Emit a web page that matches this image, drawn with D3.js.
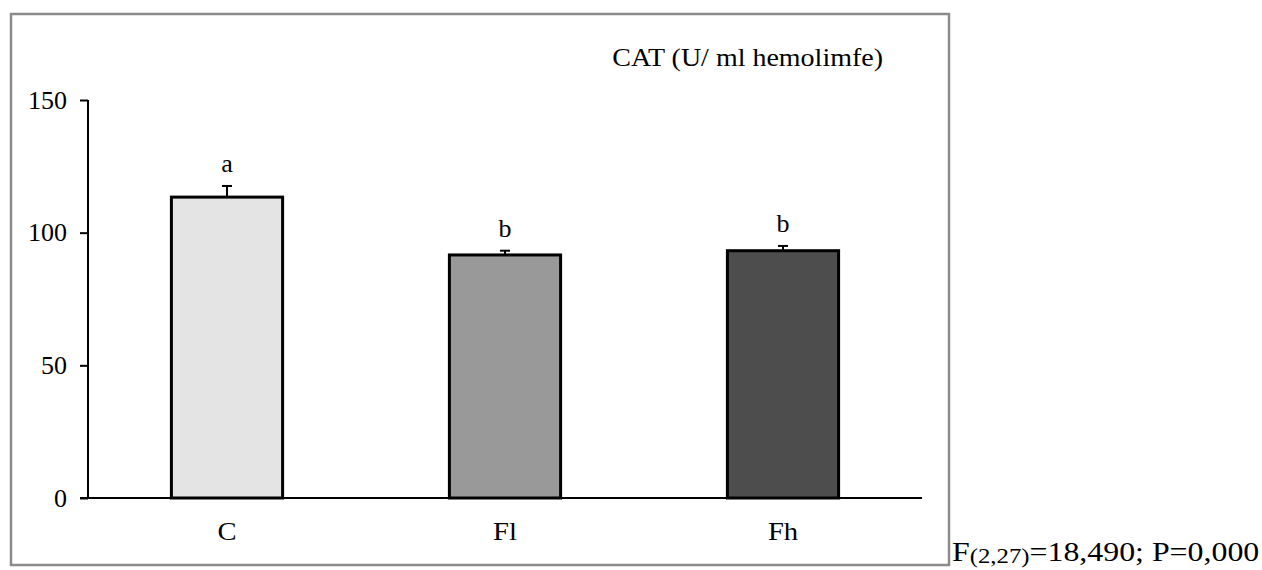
<!DOCTYPE html>
<html>
<head>
<meta charset="utf-8">
<script src="https://cdn.jsdelivr.net/npm/d3@7"></script>
<style>
  html, body { margin: 0; padding: 0; background: #fff; }
  svg { display: block; }
  text { font-family: "Liberation Serif", "Times New Roman", serif; fill: #000; }
</style>
</head>
<body>
<svg id="chart" width="1262" height="570"></svg>
<script>
// CAT activity per group (U/ml haemolymph), mean and standard error
const groups = ["C", "Fl", "Fh"];
const means = [113.4, 91.6, 93.2];
const errors = [4.2, 1.6, 1.8];
const letters = ["a", "b", "b"];
const fills = ["#e4e4e4", "#999999", "#4d4d4d"];
const yTicks = [0, 50, 100, 150];
const title = "CAT (U/ ml hemolimfe)";

const svg = d3.select("#chart");

// outer frame
svg.append("rect")
  .attr("x", 11).attr("y", 14)
  .attr("width", 938).attr("height", 551)
  .attr("fill", "none")
  .attr("stroke", "#8c8c8c")
  .attr("stroke-width", 2.5);

const plot = { left: 88, right: 922, top: 100, bottom: 498 };

const x = d3.scaleBand()
  .domain(groups)
  .range([plot.left, plot.right])
  .paddingInner(0.6)
  .paddingOuter(0.3);

const y = d3.scaleLinear()
  .domain([0, 150])
  .range([plot.bottom, plot.top]);

// bars
svg.append("g")
  .selectAll("rect")
  .data(groups)
  .join("rect")
  .attr("x", d => x(d))
  .attr("y", (d, i) => y(means[i]))
  .attr("width", x.bandwidth())
  .attr("height", (d, i) => y(0) - y(means[i]))
  .attr("fill", (d, i) => fills[i])
  .attr("stroke", "#000")
  .attr("stroke-width", 3);

// error bars (upper only)
const eb = svg.append("g").attr("stroke", "#000").attr("stroke-width", 2);
groups.forEach((g, i) => {
  const cx = x(g) + x.bandwidth() / 2;
  eb.append("line")
    .attr("x1", cx).attr("x2", cx)
    .attr("y1", y(means[i])).attr("y2", y(means[i] + errors[i]));
  eb.append("line")
    .attr("x1", cx - 5).attr("x2", cx + 5)
    .attr("y1", y(means[i] + errors[i])).attr("y2", y(means[i] + errors[i]));
});

// significance letters
svg.append("g")
  .selectAll("text")
  .data(groups)
  .join("text")
  .attr("x", d => x(d) + x.bandwidth() / 2)
  .attr("y", (d, i) => y(means[i] + errors[i]) - 14)
  .attr("text-anchor", "middle")
  .attr("font-size", 26)
  .text((d, i) => letters[i]);

// y axis
const yAxis = svg.append("g")
  .attr("transform", `translate(${plot.left},0)`)
  .call(d3.axisLeft(y).tickValues(yTicks).tickSize(8).tickPadding(13).tickFormat(d3.format("d")));
yAxis.select(".domain").attr("stroke", "#000").attr("stroke-width", 2)
  .attr("d", `M0,${plot.top}V${plot.bottom}`);
yAxis.selectAll(".tick line").attr("stroke", "#000").attr("stroke-width", 2);
yAxis.selectAll(".tick text")
  .attr("font-size", 26)
  .attr("fill", "#000");

// x axis
const xAxis = svg.append("g")
  .attr("transform", `translate(0,${plot.bottom})`)
  .call(d3.axisBottom(x).tickSize(0).tickPadding(24));
xAxis.select(".domain").attr("stroke", "#000").attr("stroke-width", 2)
  .attr("d", `M${plot.left - 8},0H${plot.right}`);
xAxis.selectAll(".tick text")
  .attr("font-size", 26)
  .attr("fill", "#000")
  .attr("transform", "scale(1.1,1)")
  .attr("x", 0);

// title inside the frame (slightly wide serif face)
svg.append("text")
  .attr("transform", "translate(883,66) scale(1.12,1)")
  .attr("text-anchor", "end")
  .attr("font-size", 25)
  .text(title);

// test statistic beside the frame
const stat = svg.append("text")
  .attr("transform", "translate(952,561) scale(1.18,1)")
  .attr("font-size", 27);
stat.append("tspan").text("F");
stat.append("tspan").attr("font-size", 21).attr("dy", 2).text("(2,27)");
stat.append("tspan").attr("dy", -2).text("=18,490; P=0,000");
</script>
</body>
</html>
